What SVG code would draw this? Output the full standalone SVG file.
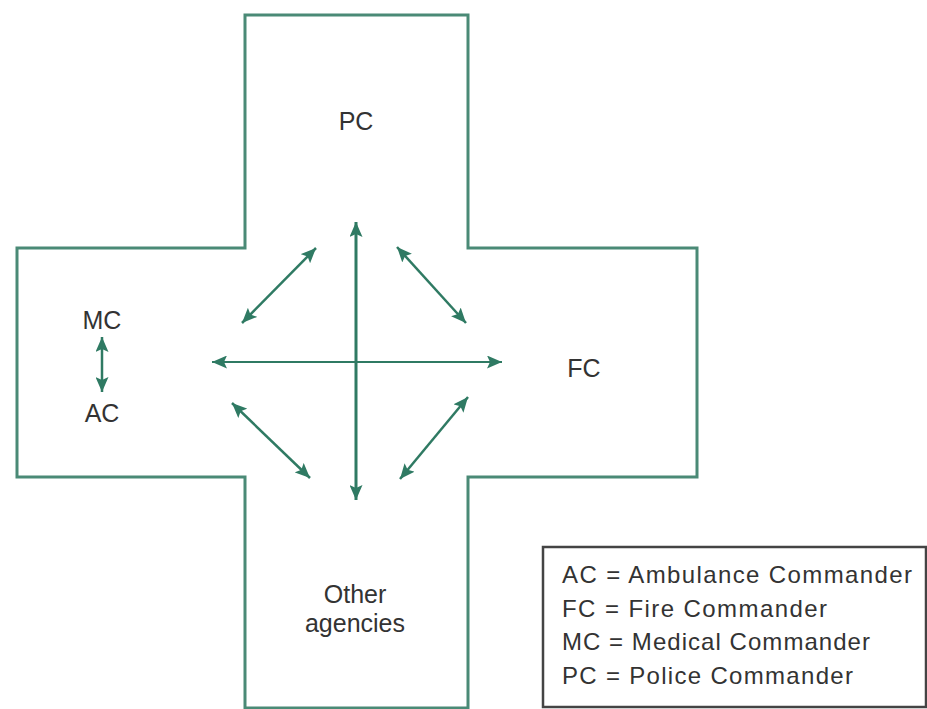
<svg xmlns="http://www.w3.org/2000/svg" width="927" height="709" viewBox="0 0 927 709">
<style>
.lbl{font-family:"Liberation Sans",Arial,sans-serif;font-size:25px;fill:#333;text-anchor:middle}
.leg{font-family:"Liberation Sans",Arial,sans-serif;font-size:24px;fill:#333}
.con{stroke:#2f7a63;fill:none}
</style>
<defs>
<marker id="ah" markerUnits="userSpaceOnUse" markerWidth="17" markerHeight="13" refX="15" refY="6.5" orient="auto-start-reverse">
<path d="M0,0 L15,6.5 L0,13 L3,6.5 Z" fill="#2f7a63"/>
</marker>
</defs>
<rect width="927" height="709" fill="#fff"/>
<g id="cross">
<path d="M245,15 H468 V248 H697 V477 H468 V708 H245 V477 H17 V248 H245 Z" fill="none" stroke="#4a8a76" stroke-width="3"/>
</g>
<g id="PC"><text class="lbl" x="356" y="130">PC</text></g>
<g id="FC"><text class="lbl" x="584" y="377">FC</text></g>
<g id="MC"><text class="lbl" x="102" y="329">MC</text></g>
<g id="AC"><text class="lbl" x="102" y="422">AC</text></g>
<g id="Other"><text class="lbl" x="355" y="603">Other</text><text class="lbl" x="355" y="632">agencies</text></g>
<g id="connectors">
<line class="con" x1="356" y1="222" x2="356" y2="500" stroke-width="3" marker-start="url(#ah)" marker-end="url(#ah)"/>
<line class="con" x1="212" y1="362" x2="502" y2="362" stroke-width="2" marker-start="url(#ah)" marker-end="url(#ah)"/>
<line class="con" x1="242" y1="323" x2="316" y2="248" stroke-width="2.5" marker-start="url(#ah)" marker-end="url(#ah)"/>
<line class="con" x1="397" y1="247" x2="466" y2="323" stroke-width="2.5" marker-start="url(#ah)" marker-end="url(#ah)"/>
<line class="con" x1="232" y1="403" x2="310" y2="478" stroke-width="2.5" marker-start="url(#ah)" marker-end="url(#ah)"/>
<line class="con" x1="468" y1="397" x2="400" y2="479" stroke-width="2.5" marker-start="url(#ah)" marker-end="url(#ah)"/>
<line class="con" x1="102" y1="337" x2="102" y2="392" stroke-width="2.5" marker-start="url(#ah)" marker-end="url(#ah)"/>
</g>
<g id="legend">
<rect x="543" y="547" width="383" height="160" fill="#fff" stroke="#444" stroke-width="2.5"/>
<text class="leg" x="562" y="583" textLength="350" lengthAdjust="spacing">AC = Ambulance Commander</text>
<text class="leg" x="562" y="617" textLength="265" lengthAdjust="spacing">FC = Fire Commander</text>
<text class="leg" x="562" y="650" textLength="308" lengthAdjust="spacing">MC = Medical Commander</text>
<text class="leg" x="562" y="684" textLength="291" lengthAdjust="spacing">PC = Police Commander</text>
</g>
</svg>
